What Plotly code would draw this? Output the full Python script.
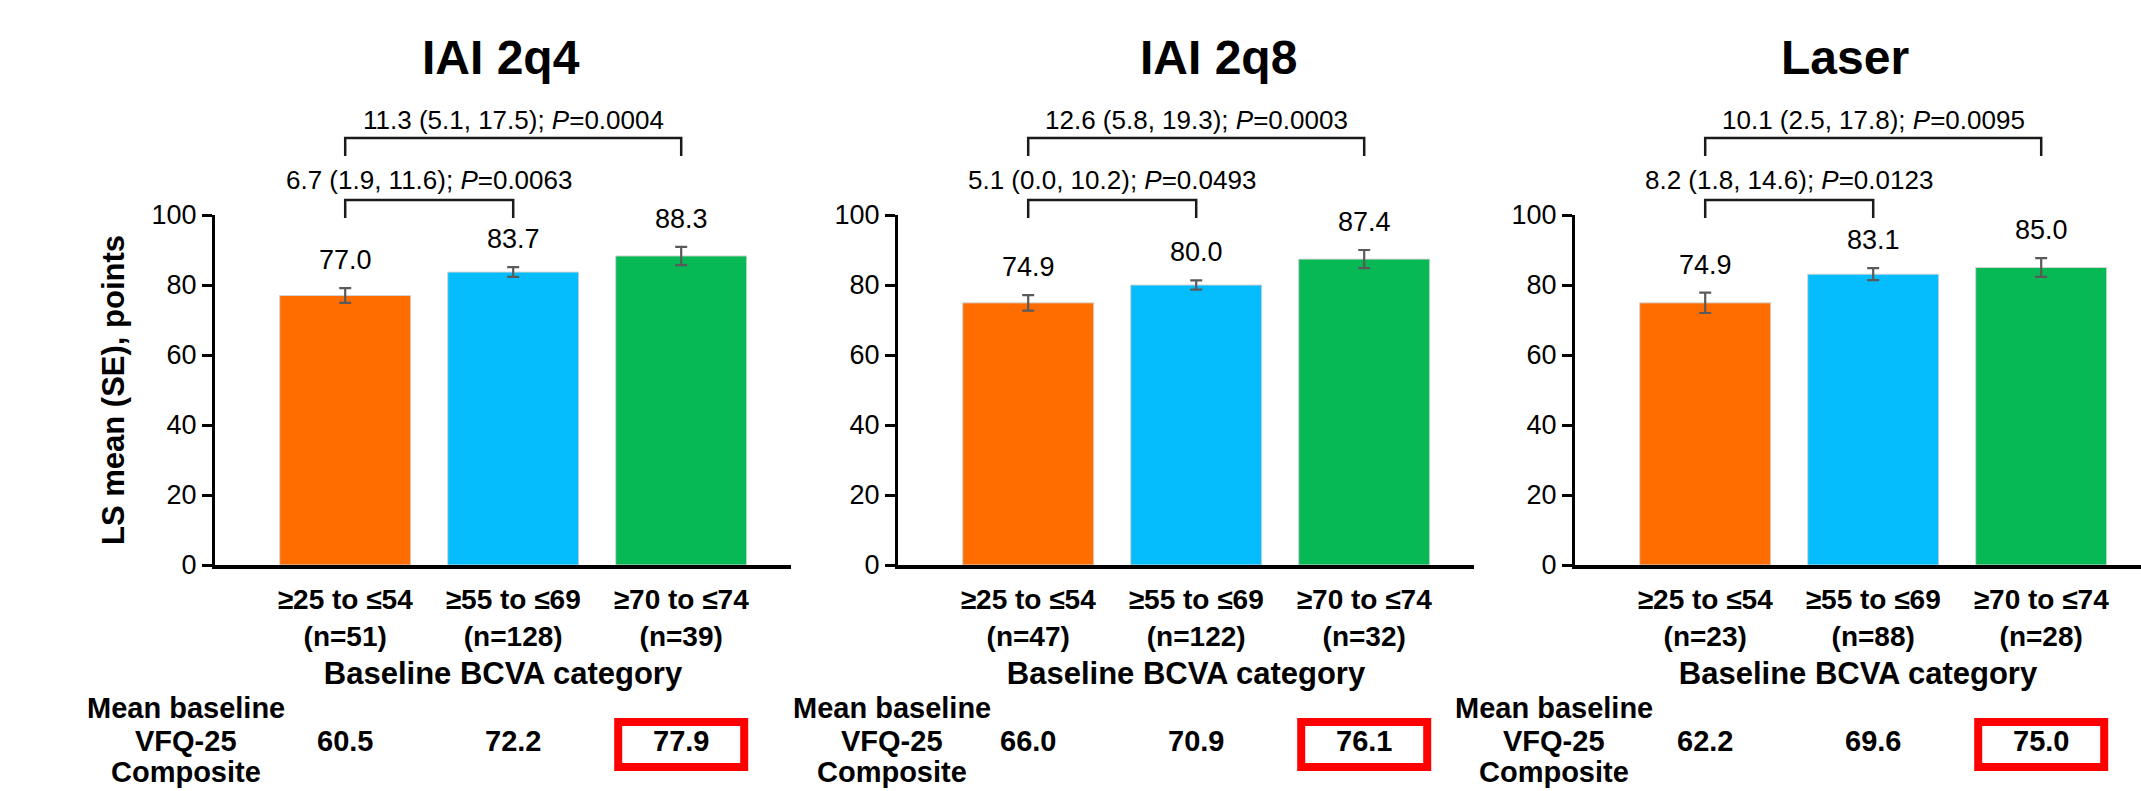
import plotly.graph_objects as go

# ---- data -------------------------------------------------------------
arms = ["IAI 2q4", "IAI 2q8", "Laser"]
categories = ["≥25 to ≤54", "≥55 to ≤69", "≥70 to ≤74"]

n_2q4 = [51, 128, 39]
n_2q8 = [47, 122, 32]
n_laser = [23, 88, 28]

ls_mean_2q4 = [77.0, 83.7, 88.3]
ls_mean_2q8 = [74.9, 80.0, 87.4]
ls_mean_laser = [74.9, 83.1, 85.0]

se_2q4 = [2.1, 1.4, 2.6]
se_2q8 = [2.2, 1.3, 2.6]
se_laser = [2.9, 1.7, 2.7]

baseline_vfq_2q4 = [60.5, 72.2, 77.9]
baseline_vfq_2q8 = [66.0, 70.9, 76.1]
baseline_vfq_laser = [62.2, 69.6, 75.0]

# pairwise differences vs the lowest BCVA category: (target index, diff, CI low, CI high, P)
diff_2q4 = [(1, 6.7, 1.9, 11.6, "0.0063"), (2, 11.3, 5.1, 17.5, "0.0004")]
diff_2q8 = [(1, 5.1, 0.0, 10.2, "0.0493"), (2, 12.6, 5.8, 19.3, "0.0003")]
diff_laser = [(1, 8.2, 1.8, 14.6, "0.0123"), (2, 10.1, 2.5, 17.8, "0.0095")]

row_label = ["Mean baseline", "VFQ-25", "Composite"]
y_ticks = [0, 20, 40, 60, 80, 100]
highlight_category = 2

# ---- style ------------------------------------------------------------
W, H = 2141, 791
FONT = "Liberation Sans, Arial, Helvetica, sans-serif"
bar_colors = ["#FF6D00", "#05BDFC", "#06B955"]
err_color = "#5a5a5a"

panel_axis_px = [215, 898, 1575]      # left edge (y axis line) of each panel
UNIT_PX = 168                          # pixels per category step
X_MIN = -0.775
PANEL_W = 576
Y_TOP_PX, Y_BOT_PX = 215, 565

title_dx = [-0.07, 0.13, -0.17]
label_dx = [-0.95, -0.81, -0.90]
row_label_px = [708, 741, 772]        # vertical centres of the three label lines
VALUE_ROW_PX = 741


def ypx(p):
    return 1 - p / H


panels = [
    (ls_mean_2q4, se_2q4, n_2q4, baseline_vfq_2q4, diff_2q4),
    (ls_mean_2q8, se_2q8, n_2q8, baseline_vfq_2q8, diff_2q8),
    (ls_mean_laser, se_laser, n_laser, baseline_vfq_laser, diff_laser),
]

fig = go.Figure()
annotations = []
shapes = []

for k, (means, ses, ns, vfq, diffs) in enumerate(panels):
    sfx = "" if k == 0 else str(k + 1)
    xa, ya = "x" + sfx, "y" + sfx
    x_idx = list(range(len(categories)))

    fig.add_trace(go.Bar(
        x=x_idx, y=means, width=0.78,
        marker=dict(color=bar_colors, line=dict(color="#d4d4d4", width=1)),
        error_y=dict(type="data", array=ses, visible=True,
                     color=err_color, thickness=2.2, width=6),
        xaxis=xa, yaxis=ya, showlegend=False, hoverinfo="skip",
    ))

    x0 = panel_axis_px[k]
    x1 = min(W, x0 + PANEL_W)
    x_max = X_MIN + (x1 - x0) / UNIT_PX
    ticktext = [f"<b>{c}<br>(n={n})</b>" for c, n in zip(categories, ns)]

    fig.update_layout(**{
        ("xaxis" + sfx): dict(
            domain=[x0 / W, x1 / W], range=[X_MIN, x_max], anchor=ya,
            showline=True, linecolor="black", linewidth=3.5,
            ticks="", tickvals=x_idx, ticktext=ticktext, ticklabelstandoff=7,
            tickfont=dict(family=FONT, size=28, color="black"),
            showgrid=False, zeroline=False, fixedrange=True, automargin=False,
            title=dict(text="<b>Baseline BCVA category</b>",
                       font=dict(family=FONT, size=31, color="black"),
                       standoff=13),
        ),
        ("yaxis" + sfx): dict(
            domain=[ypx(Y_BOT_PX), ypx(Y_TOP_PX)], range=[0, 100], anchor=xa,
            showline=True, linecolor="black", linewidth=3,
            ticks="outside", ticklen=10, tickwidth=3, tickcolor="black",
            tickvals=y_ticks, ticklabelstandoff=0,
            tickfont=dict(family=FONT, size=27, color="black"),
            showgrid=False, zeroline=False, fixedrange=True, automargin=False,
            title=dict(
                text="<b>LS mean (SE), points</b>" if k == 0 else "",
                font=dict(family=FONT, size=31, color="black"), standoff=18),
        ),
    })

    # panel title
    annotations.append(dict(
        x=1 + title_dx[k], xref=xa, y=ypx(57), yref="paper",
        text=f"<b>{arms[k]}</b>", showarrow=False, xanchor="center", yanchor="middle",
        font=dict(family=FONT, size=48, color="black")))

    # value labels over the error bars
    for i, (m, s) in enumerate(zip(means, ses)):
        annotations.append(dict(
            x=i, xref=xa, y=m + s, yref=ya, yshift=28,
            text=f"{m:.1f}", showarrow=False, xanchor="center", yanchor="middle",
            font=dict(family=FONT, size=27, color="black")))

    # comparison brackets
    bracket_px = {1: (200, 218, 180), 2: (138, 156, 120)}
    for j, d, lo, hi, p in diffs:
        line_px, leg_px, lab_px = bracket_px[j]
        shapes.append(dict(
            type="path", xref=xa, yref="paper",
            path=(f"M 0,{ypx(leg_px)} L 0,{ypx(line_px)} "
                  f"L {j},{ypx(line_px)} L {j},{ypx(leg_px)}"),
            line=dict(color="#1a1a1a", width=2.5)))
        annotations.append(dict(
            x=j / 2, xref=xa, y=ypx(lab_px), yref="paper",
            text=f"{d:.1f} ({lo:.1f}, {hi:.1f}); <i>P</i>={p}",
            showarrow=False, xanchor="center", yanchor="middle",
            font=dict(family=FONT, size=26, color="black")))

    # baseline VFQ-25 composite row
    first_center_px = x0 + (0 - X_MIN) * UNIT_PX
    for line_text, line_px in zip(row_label, row_label_px):
        annotations.append(dict(
            x=(first_center_px + label_dx[k] * UNIT_PX) / W, xref="paper",
            y=ypx(line_px), yref="paper",
            text=f"<b>{line_text}</b>", showarrow=False,
            xanchor="center", yanchor="middle",
            font=dict(family=FONT, size=29, color="black")))
    for i, v in enumerate(vfq):
        annotations.append(dict(
            x=i, xref=xa, y=ypx(VALUE_ROW_PX), yref="paper",
            text=f"<b>{v:.1f}</b>", showarrow=False,
            xanchor="center", yanchor="middle",
            font=dict(family=FONT, size=29, color="black")))
    shapes.append(dict(
        type="rect", xref=xa, yref="paper",
        x0=highlight_category - 0.375, x1=highlight_category + 0.375,
        y0=ypx(767), y1=ypx(722),
        line=dict(color="#FF0000", width=8)))

fig.update_layout(
    width=W, height=H,
    margin=dict(l=0, r=0, t=0, b=0, autoexpand=False),
    paper_bgcolor="white", plot_bgcolor="white",
    annotations=annotations, shapes=shapes,
    bargap=0.2,
)

fig.write_html("out.html")
